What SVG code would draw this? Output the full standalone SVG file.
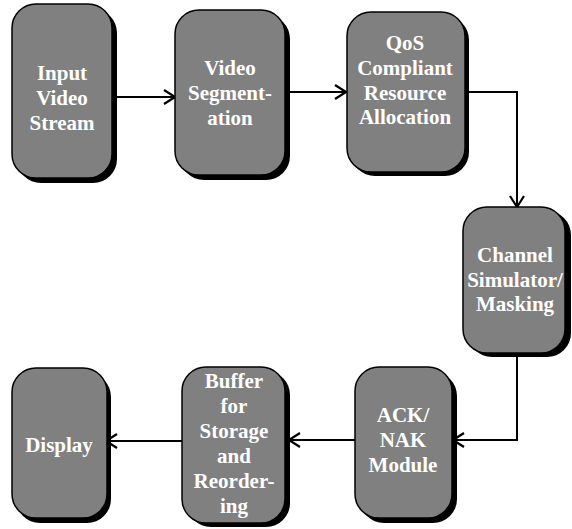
<svg xmlns="http://www.w3.org/2000/svg" width="572" height="529" viewBox="0 0 572 529">
<defs>
<style>
.sh{fill:#000;}
.bx{fill:#808080;stroke:#000;stroke-width:1.5;}
.t{font-family:"Liberation Serif","Times New Roman",serif;font-weight:bold;font-size:21px;fill:#fff;text-anchor:middle;}
.c{fill:none;stroke:#000;stroke-width:2;}
</style>
<marker id="arr" viewBox="0 0 13 16" refX="12" refY="8" markerWidth="13" markerHeight="16" orient="auto" markerUnits="userSpaceOnUse">
<path d="M1,1 L12,8 L1,15" fill="none" stroke="#000" stroke-width="2.2"/>
</marker>
</defs>
<rect width="572" height="529" fill="#fff"/>
<g id="connectors">
<path class="c" d="M112,97 L175,97" marker-end="url(#arr)"/>
<path class="c" d="M285,92 L346,92" marker-end="url(#arr)"/>
<path class="c" d="M465,92 L517,92 L517,207" marker-end="url(#arr)"/>
<path class="c" d="M517,357 L517,440 L453,440" marker-end="url(#arr)"/>
<path class="c" d="M355,440 L289,440" marker-end="url(#arr)"/>
<path class="c" d="M182,441 L106,441" marker-end="url(#arr)"/>
</g>
<g id="n1">
<rect class="sh" x="17" y="9" width="100" height="174" rx="24"/>
<rect class="bx" x="12" y="4" width="100" height="174" rx="24"/>
<text class="t" x="62" y="80">Input</text>
<text class="t" x="62" y="105">Video</text>
<text class="t" x="62" y="130">Stream</text>
</g>
<g id="n2">
<rect class="sh" x="180" y="15" width="110" height="165" rx="24"/>
<rect class="bx" x="175" y="10" width="110" height="165" rx="24"/>
<text class="t" x="230" y="75">Video</text>
<text class="t" x="230" y="100">Segment-</text>
<text class="t" x="230" y="125">ation</text>
</g>
<g id="n3">
<rect class="sh" x="351" y="16" width="118" height="160" rx="24"/>
<rect class="bx" x="347" y="12" width="118" height="160" rx="24"/>
<text class="t" x="405" y="50">QoS</text>
<text class="t" x="405" y="75">Compliant</text>
<text class="t" x="405" y="100">Resource</text>
<text class="t" x="405" y="124">Allocation</text>
</g>
<g id="n4">
<rect class="sh" x="468" y="211" width="103" height="146" rx="24"/>
<rect class="bx" x="463" y="207" width="102" height="146" rx="24"/>
<text class="t" x="515" y="262">Channel</text>
<text class="t" x="515" y="287">Simulator/</text>
<text class="t" x="515" y="311">Masking</text>
</g>
<g id="n5">
<rect class="sh" x="360" y="372" width="97" height="151" rx="24"/>
<rect class="bx" x="355" y="367" width="97" height="151" rx="24"/>
<text class="t" x="403" y="422">ACK/</text>
<text class="t" x="403" y="447">NAK</text>
<text class="t" x="403" y="472">Module</text>
</g>
<g id="n6">
<rect class="sh" x="187" y="371" width="103" height="156" rx="24"/>
<rect class="bx" x="182" y="367" width="103" height="156" rx="24"/>
<text class="t" x="234" y="388">Buffer</text>
<text class="t" x="234" y="413">for</text>
<text class="t" x="234" y="438">Storage</text>
<text class="t" x="234" y="463">and</text>
<text class="t" x="234" y="488">Reorder-</text>
<text class="t" x="234" y="513">ing</text>
</g>
<g id="n7">
<rect class="sh" x="16" y="373" width="95" height="150" rx="24"/>
<rect class="bx" x="12" y="368" width="95" height="150" rx="24"/>
<text class="t" x="59" y="452">Display</text>
</g>
</svg>
